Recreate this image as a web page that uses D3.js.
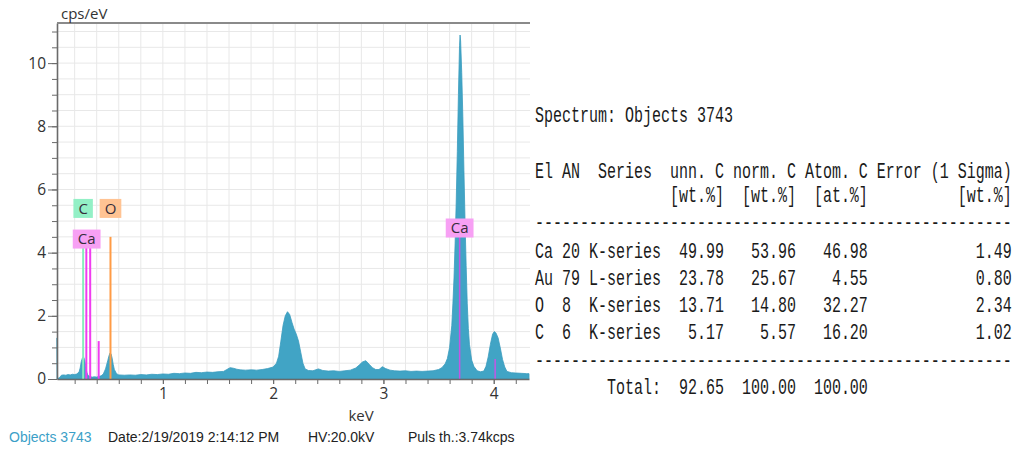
<!DOCTYPE html>
<html lang="en">
<head>
<meta charset="utf-8">
<title>EDS Spectrum - Objects 3743</title>
<script src="https://d3js.org/d3.v7.min.js"></script>
<style>
  body { margin: 0; background: #fff; }
  svg { display: block; }
  .axis path, .axis line { stroke: #6a6a6a; }
  .axis text { font-family: "Open Sans", sans-serif; font-size: 15.5px; fill: #333; }
  .grid line { stroke: #e8e8e8; stroke-width: 1; }
  .foot { font-family: "Liberation Sans", Arial, sans-serif; font-size: 14px; }
  .tbl { font-family: "Liberation Mono", monospace; font-size: 15px; fill: #1a1a1a; white-space: pre; }
</style>
</head>
<body>
<script>
// spectrum (keV, cps/eV)
const energy = [0.04, 0.045, 0.06, 0.08, 0.10, 0.12, 0.14, 0.16, 0.18, 0.20, 0.22, 0.24, 0.25, 0.26, 0.27, 0.28, 0.29, 0.30, 0.31, 0.32,
  0.34, 0.36, 0.38, 0.40, 0.42, 0.44, 0.46, 0.48, 0.50, 0.51, 0.52, 0.53, 0.54, 0.55, 0.56, 0.58, 0.60, 0.65, 0.70, 0.75,
  0.80, 0.85, 0.90, 0.95, 1.00, 1.05, 1.10, 1.15, 1.20, 1.25, 1.30, 1.35, 1.40, 1.45, 1.50, 1.55, 1.58, 1.61, 1.64, 1.67,
  1.70, 1.75, 1.80, 1.85, 1.90, 1.95, 2.00, 2.03, 2.05, 2.07, 2.09, 2.11, 2.13, 2.15, 2.17, 2.19, 2.21, 2.23, 2.25, 2.27,
  2.29, 2.32, 2.36, 2.41, 2.45, 2.50, 2.55, 2.60, 2.65, 2.70, 2.75, 2.78, 2.81, 2.84, 2.87, 2.90, 2.93, 2.96, 2.99, 3.02,
  3.06, 3.10, 3.15, 3.20, 3.25, 3.30, 3.35, 3.40, 3.45, 3.50, 3.53, 3.56, 3.58, 3.60, 3.62, 3.63, 3.64, 3.65, 3.66, 3.67,
  3.68, 3.69, 3.695, 3.70, 3.71, 3.72, 3.73, 3.74, 3.75, 3.76, 3.77, 3.78, 3.80, 3.82, 3.85, 3.88, 3.91, 3.93, 3.95, 3.97,
  3.99, 4.005, 4.02, 4.04, 4.06, 4.08, 4.10, 4.12, 4.16, 4.20, 4.25, 4.30, 4.32];
const counts = [1.30, 0.02, 0.03, 0.12, 0.13, 0.12, 0.14, 0.13, 0.15, 0.14, 0.16, 0.22, 0.35, 0.55, 0.66, 0.70, 0.62, 0.42, 0.22, 0.12,
  0.07, 0.06, 0.07, 0.06, 0.08, 0.10, 0.16, 0.32, 0.58, 0.72, 0.82, 0.80, 0.66, 0.46, 0.30, 0.17, 0.13, 0.12, 0.13, 0.12,
  0.14, 0.13, 0.15, 0.14, 0.16, 0.15, 0.18, 0.17, 0.19, 0.18, 0.21, 0.20, 0.22, 0.21, 0.23, 0.24, 0.30, 0.36, 0.34, 0.31,
  0.29, 0.28, 0.29, 0.28, 0.30, 0.33, 0.38, 0.50, 0.72, 1.20, 1.70, 2.00, 2.13, 2.04, 1.80, 1.58, 1.42, 1.20, 0.85, 0.50,
  0.32, 0.27, 0.26, 0.32, 0.27, 0.25, 0.26, 0.24, 0.26, 0.28, 0.35, 0.44, 0.54, 0.58, 0.47, 0.36, 0.30, 0.30, 0.39, 0.33,
  0.28, 0.26, 0.25, 0.26, 0.24, 0.25, 0.24, 0.25, 0.26, 0.30, 0.36, 0.48, 0.65, 1.00, 1.70, 2.40, 3.20, 4.30, 5.60, 7.20,
  9.00, 10.55, 10.89, 10.70, 9.70, 8.30, 6.60, 5.00, 3.60, 2.40, 1.60, 1.10, 0.60, 0.40, 0.26, 0.23, 0.25, 0.40, 0.70, 1.10,
  1.42, 1.50, 1.46, 1.30, 0.98, 0.62, 0.38, 0.24, 0.20, 0.19, 0.18, 0.17, 0.17];

// element marker lines and their labels
const markerEl  = ["C", "Ca", "Ca", "Ca", "O", "Ca", "Ca"];
const markerKeV = [0.277, 0.306, 0.341, 0.418, 0.525, 3.691, 4.013];
const markerTop = [4.15, 4.15, 4.15, 1.2, 4.5, 4.5, 0.63];
const labelEl    = ["C", "O", "Ca", "Ca"];
const labelKeV   = [0.277, 0.525, 0.309, 3.691];
const labelLevel = [5.4, 5.4, 4.43, 4.78];
const elColor  = { C: "#88ecbc", O: "#ff9b45", Ca: "#f03cf0" };
const elFill   = { C: "#93f0c6", O: "#ffc393", Ca: "#f7a0f4" };

const xTickLabels = [1, 2, 3, 4];
const yTickLabels = [0, 2, 4, 6, 8, 10];

// quantification table
const tEl     = ["Ca", "Au", "O", "C"];
const tAN     = [20, 79, 8, 6];
const tSeries = ["K-series", "L-series", "K-series", "K-series"];
const tUnn    = [49.99, 23.78, 13.71, 5.17];
const tNorm   = [53.96, 25.67, 14.80, 5.57];
const tAtom   = [46.98, 4.55, 32.27, 16.20];
const tErr    = [1.49, 0.80, 2.34, 1.02];
const tTotal  = [92.65, 100.00, 100.00];

const footer = ["Objects 3743", "Date:2/19/2019 2:14:12 PM", "HV:20.0kV", "Puls th.:3.74kcps"];

const W = 1019, H = 450;
const pLeft = 57, pRight = 529, pTop = 23, pBottom = 379;

const svg = d3.select("body").append("svg").attr("width", W).attr("height", H);

const x = d3.scaleLinear().domain([0.04, 4.32]).range([pLeft, pRight]);
const y = d3.scaleLinear().domain([0, 11.27]).range([pBottom, pTop]);

const xMinor = d3.range(1, 22).map(i => i * 0.2);
const yMinor = d3.range(1, 23).map(i => i * 0.5);

// grid
svg.append("g").attr("class", "grid")
   .selectAll("line").data(xMinor).join("line")
   .attr("x1", d => x(d)).attr("x2", d => x(d)).attr("y1", pTop).attr("y2", pBottom);
svg.append("g").attr("class", "grid")
   .selectAll("line").data(yMinor).join("line")
   .attr("x1", pLeft).attr("x2", pRight + 1).attr("y1", d => y(d)).attr("y2", d => y(d));

// spectrum
const spec = energy.map((e, i) => [e, counts[i]]);
const area = d3.area().x(d => x(d[0])).y0(y(0)).y1(d => y(d[1]));
svg.append("path").datum(spec)
   .attr("d", area)
   .attr("fill", "#41a4c5")
   .attr("stroke", "#3a9cbe")
   .attr("stroke-width", 0.8);

// marker lines
svg.append("g").selectAll("line").data(markerKeV).join("line")
   .attr("x1", d => x(d)).attr("x2", d => x(d))
   .attr("y1", (d, i) => y(markerTop[i])).attr("y2", y(0))
   .attr("stroke", (d, i) => elColor[markerEl[i]])
   .attr("stroke-width", (d, i) => markerEl[i] === "Ca" && d > 1 ? 1.5 : 2)
   .attr("opacity", (d, i) => markerEl[i] === "Ca" && d > 1 ? 0.75 : 1);

// marker labels
const lab = svg.append("g").selectAll("g").data(labelKeV).join("g")
   .attr("transform", (d, i) => `translate(${x(d)},${y(labelLevel[i])})`);
lab.append("text")
   .attr("text-anchor", "middle").attr("dy", "0.36em")
   .style("font-family", "'Open Sans', sans-serif").style("font-size", "15px")
   .attr("fill", "#352c3a")
   .text((d, i) => labelEl[i]);
lab.each(function (d, i) {
  const g = d3.select(this);
  const bb = g.select("text").node().getBBox();
  g.insert("rect", "text")
   .attr("x", -bb.width / 2 - 5).attr("y", -9.5)
   .attr("width", bb.width + 10).attr("height", 19)
   .attr("fill", elFill[labelEl[i]]);
});

// axes
const yAxis = svg.append("g").attr("class", "axis").attr("transform", `translate(${pLeft},0)`);
yAxis.call(d3.axisLeft(y).tickValues(yMinor.concat([0])).tickFormat("").tickSize(5).tickSizeOuter(0));
yAxis.append("g").call(d3.axisLeft(y).tickValues(yTickLabels).tickFormat(d3.format("d")).tickSize(9).tickPadding(2).tickSizeOuter(0))
     .call(g => g.select(".domain").remove());
yAxis.select(".domain").attr("stroke-width", 1.6);

const xAxis = svg.append("g").attr("class", "axis").attr("transform", `translate(0,${pBottom})`);
xAxis.call(d3.axisBottom(x).tickValues(xMinor).tickFormat("").tickSize(5).tickSizeOuter(0));
xAxis.append("g").call(d3.axisBottom(x).tickValues(xTickLabels).tickFormat(d3.format("d")).tickSize(5).tickPadding(4).tickSizeOuter(0))
     .call(g => g.select(".domain").remove());
xAxis.select(".domain").attr("stroke-width", 1.6);

svg.append("line").attr("x1", pLeft).attr("x2", pRight + 1).attr("y1", pTop).attr("y2", pTop)
   .attr("stroke", "#8a8a8a").attr("stroke-width", 2);

svg.append("text").attr("x", 61).attr("y", 19)
   .style("font-family", "'Open Sans', sans-serif").style("font-size", "15px").attr("fill", "#333")
   .text("cps/eV");
svg.append("text").attr("x", 361).attr("y", 421).attr("text-anchor", "middle")
   .style("font-family", "'Open Sans', sans-serif").style("font-size", "15px").attr("fill", "#333")
   .text("keV");

// footer
const footX = [9, 108, 308, 408];
svg.append("g").selectAll("text").data(footer).join("text")
   .attr("class", "foot")
   .attr("x", (d, i) => footX[i]).attr("y", 442)
   .style("fill", (d, i) => i === 0 ? "#3b9fc8" : "#222")
   .text(d => d);

// table
const f = v => v.toFixed(2);
const dashes = "-".repeat(53);
const lines = [
  { t: "Spectrum: Objects 3743", y: 122 },
  { t: "El AN  Series  unn. C norm. C Atom. C Error (1 Sigma)", y: 178 },
  { t: " ".repeat(15) + "[wt.%]" + "  [wt.%]" + "  [at.%]" + " ".repeat(10) + "[wt.%]", y: 202 },
  { t: dashes, y: 229 }
];
tEl.forEach((el, i) => {
  lines.push({
    t: el.padEnd(3) + String(tAN[i]).padEnd(3) + tSeries[i] +
       f(tUnn[i]).padStart(7) + f(tNorm[i]).padStart(8) + f(tAtom[i]).padStart(8) + f(tErr[i]).padStart(16),
    y: 258 + i * 27
  });
});
lines.push({ t: dashes, y: 367 });
lines.push({ t: " ".repeat(8) + "Total:" + f(tTotal[0]).padStart(7) + f(tTotal[1]).padStart(8) + f(tTotal[2]).padStart(8), y: 394 });

svg.append("g").selectAll("text").data(lines).join("text")
   .attr("class", "tbl")
   .attr("xml:space", "preserve")
   .attr("transform", d => `translate(535,${d.y}) scale(1,1.45)`)
   .text(d => d.t);
</script>
</body>
</html>
